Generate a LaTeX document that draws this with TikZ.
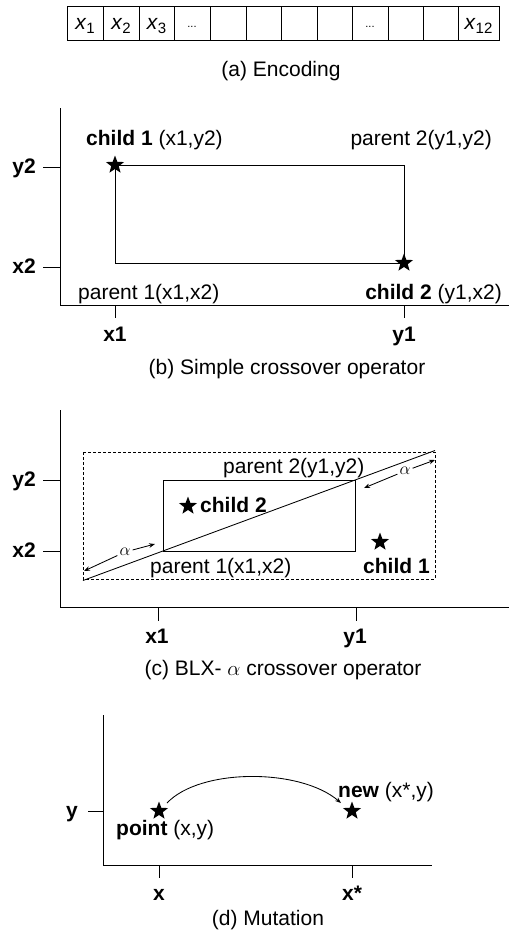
\documentclass[tikz,border=0pt]{standalone}
\usepackage{fontspec}
\setmainfont{Liberation Sans}
\usetikzlibrary{shapes.geometric,arrows.meta}
\newcommand{\sbs}[1]{\raisebox{-4pt}{\fontsize{15}{15}\selectfont #1}}
\begin{document}
\begin{tikzpicture}[x=1pt,y=-1pt,
  every node/.style={font=\fontsize{21}{25}\selectfont, inner sep=0pt},
  lbl/.style={anchor=base},
  lw/.style={anchor=base west},
  le/.style={anchor=base east},
  axis/.style={line width=1pt},
  ln/.style={line width=0.85pt},
  starn/.style={star, star points=5, star point ratio=2.4, fill=black, minimum size=19pt, inner sep=0pt},
  cell/.style={draw, line width=0.9pt, minimum height=34pt, anchor=north west},
  tip/.style={-{Stealth[length=6pt,width=4.5pt]}},
  alab/.style={font=\fontsize{16}{16}\selectfont, inner sep=2pt},
]
\useasboundingbox (0,0) rectangle (509,934);

% (a) Encoding
\node[cell, minimum width=36pt] (c1) at (67,6) {};
\node[cell, minimum width=36pt] (c2) at (103,6) {};
\node[cell, minimum width=35pt] (c3) at (139,6) {};
\node[cell, minimum width=36pt] (c4) at (174,6) {};
\node[cell, minimum width=36pt] (c5) at (210,6) {};
\node[cell, minimum width=35pt] (c6) at (246,6) {};
\node[cell, minimum width=36pt] (c7) at (281,6) {};
\node[cell, minimum width=35pt] (c8) at (317,6) {};
\node[cell, minimum width=36pt] (c9) at (352,6) {};
\node[cell, minimum width=35pt] (c10) at (388,6) {};
\node[cell, minimum width=35pt] (c11) at (423,6) {};
\node[cell, minimum width=41pt] (c12) at (458,6) {};
\node[lbl] (t1) at (85,30) {\textit{x}\sbs{1}};
\node[lbl] (t2) at (121,30) {\textit{x}\sbs{2}};
\node[lbl] (t3) at (156.5,30) {\textit{x}\sbs{3}};
\node[lbl, font=\fontsize{11}{11}\selectfont] (t4) at (192,28) {...};
\node[lbl, font=\fontsize{11}{11}\selectfont] (t9) at (370,28) {...};
\node[lbl] (t12) at (478.5,30) {\textit{x}\sbs{12}};
\node[lbl] (capa) at (281,77) {(a) Encoding};

% (b) Simple crossover
\draw[axis] (60,108) -- (60,305) -- (509,305);
\draw[axis] (43,167) -- (60,167);
\draw[axis] (43,267) -- (60,267);
\draw[axis] (115,305) -- (115,318);
\draw[axis] (404,305) -- (404,318);
\draw[ln] (115,165) rectangle (404,263);
\node[starn] (bs1) at (115,165) {};
\node[starn] (bs2) at (404,263) {};
\node[lw] (bl1) at (86,145) {\textbf{child 1} (x1,y2)};
\node[le] (bl2) at (492,145) {parent 2(y1,y2)};
\node[lw] (bl3) at (78,299) {parent 1(x1,x2)};
\node[le] (bl4) at (502,299) {\textbf{child 2} (y1,x2)};
\node[le] (by2) at (36,173) {\textbf{y2}};
\node[le] (bx2) at (36,273) {\textbf{x2}};
\node[lbl] (bx1) at (115,341) {\textbf{x1}};
\node[lbl] (by1) at (404,341) {\textbf{y1}};
\node[lbl] (capb) at (287,374) {(b) Simple crossover operator};

% (c) BLX-alpha
\draw[axis] (60,410) -- (60,607) -- (509,607);
\draw[axis] (43,480) -- (60,480);
\draw[axis] (43,551) -- (60,551);
\draw[axis] (158,607) -- (158,621);
\draw[axis] (356,607) -- (356,621);
\draw[ln, dash pattern=on 3pt off 2pt] (83,452) rectangle (435,579);
\draw[ln] (163,480) rectangle (355,551);
\coordinate (dl) at (83,580.5);
\coordinate (dr) at (435,450.5);
\draw[ln] (dl) -- (dr);
\node[alab] (al1) at (125,552) {$\alpha$};
\coordinate (al1a) at (84,571);
\coordinate (al1b) at (155,544);
\draw[ln, tip] (al1) -- (al1a);
\draw[ln, tip] (al1) -- (al1b);
\node[alab] (al2) at (405,471) {$\alpha$};
\coordinate (al2a) at (364,488);
\coordinate (al2b) at (435,460);
\draw[ln, tip] (al2) -- (al2a);
\draw[ln, tip] (al2) -- (al2b);
\node[lw] (cl1) at (223,473) {parent 2(y1,y2)};
\node[starn] (cs2) at (188,506) {};
\node[lw] (cl2) at (200,512) {\textbf{child 2}};
\node[starn] (cs1) at (380,542) {};
\node[lw] (cl3) at (363,573) {\textbf{child 1}};
\node[lw] (cl4) at (150,573) {parent 1(x1,x2)};
\node[le] (cy2) at (36,486) {\textbf{y2}};
\node[le] (cx2) at (36,557) {\textbf{x2}};
\node[lbl] (cx1) at (157,643) {\textbf{x1}};
\node[lbl] (cy1) at (355,643) {\textbf{y1}};
\node[lbl] (capc) at (283,675) {(c) BLX- $\alpha$ crossover operator};

% (d) Mutation
\draw[axis] (103,715) -- (103,865) -- (432,865);
\draw[axis] (88,811) -- (103,811);
\draw[axis] (159,865) -- (159,878);
\draw[axis] (352,865) -- (352,878);
\node[starn] (ds1) at (159,811) {};
\node[starn] (ds2) at (352,811) {};
\coordinate (arcS) at (167,803);
\coordinate (arcE) at (341,803);
\draw[ln, tip] (arcS) .. controls (200,768) and (300,768) .. (arcE);
\node[lw] (dl1) at (338,797) {\textbf{new} (x*,y)};
\node[lw] (dl2) at (116,835) {\textbf{point} (x,y)};
\node[le] (dy) at (78,817) {\textbf{y}};
\node[lbl] (dx) at (159,900) {\textbf{x}};
\node[lbl] (dxs) at (352,900) {\textbf{x*}};
\node[lbl] (capd) at (268,925) {(d) Mutation};
\end{tikzpicture}
\end{document}
